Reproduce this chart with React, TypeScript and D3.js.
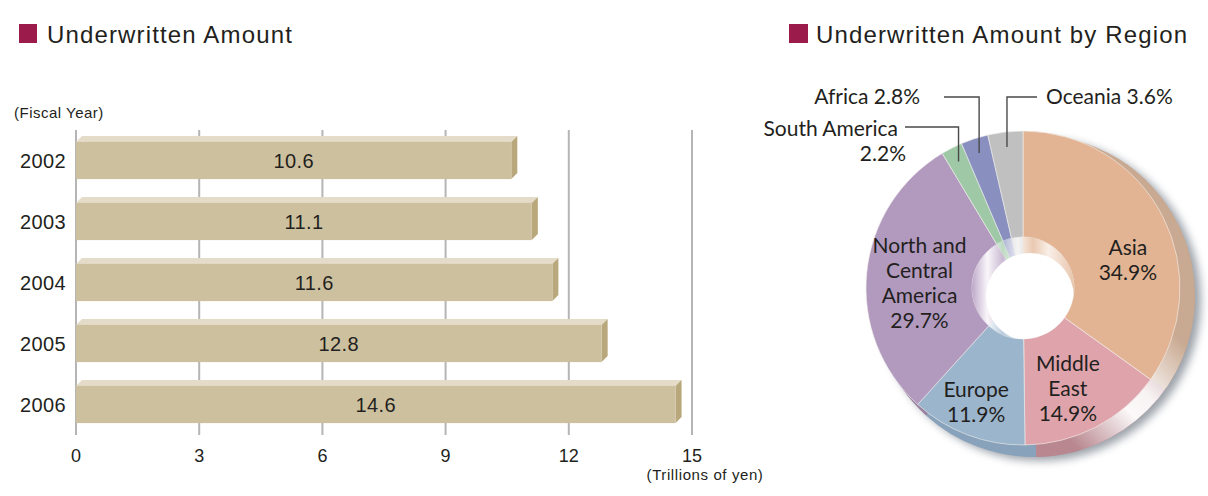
import React from "react";
import * as d3 from "d3";

// Underwritten amount by fiscal year (trillions of yen)
const years = ["2002", "2003", "2004", "2005", "2006"];
const amounts = [10.6, 11.1, 11.6, 12.8, 14.6];
const xTickValues = [0, 3, 6, 9, 12, 15];

// Share of underwritten amount by region (%), clockwise from 12 o'clock
const regionNames = ["Asia", "Middle East", "Europe", "North and Central America", "South America", "Africa", "Oceania"];
const regionShares = [34.9, 14.9, 11.9, 29.7, 2.2, 2.8, 3.6];
const regionFaceColors = ["#e2b493", "#dfa4ab", "#9bb5cd", "#b29abf", "#9ec8a6", "#8990bf", "#c0c0c0"];
const regionSideColors = ["#bf9a7e", "#b8878f", "#87a2ba", "#97809f", "#86ab8e", "#7078a3", "#a3a3a3"];

// Region names as they are broken over lines inside the ring
const insideNameLines: Record<string, string[]> = {
  "Asia": ["Asia"],
  "Middle East": ["Middle", "East"],
  "Europe": ["Europe"],
  "North and Central America": ["North and", "Central", "America"],
};
// nudges from the slice centroid for the inside labels
const insideNudge: Record<string, [number, number]> = {
  "Asia": [7, 22],
  "Middle East": [-6, 3],
  "Europe": [-8, 11],
  "North and Central America": [6, 6],
};

const TEXT = "#231f20";
const SANS = "'Liberation Sans', Arial, Helvetica, sans-serif";
const ROUND = "Lato, 'Noto Sans', sans-serif";

export default function App() {
  const W = 1208;
  const H = 496;

  // ---------- bar chart ----------
  const x = d3.scaleLinear().domain([0, 15]).range([76, 692]);
  const y = d3
    .scaleBand<string>()
    .domain(years)
    .range([130, 435])
    .paddingInner(0.39)
    .paddingOuter(0.195);
  const bw = y.bandwidth();
  const dx = 6;
  const dy = 6;

  // ---------- donut ----------
  const cx = 1023;
  const cy = 288;
  const outerR = 157;
  const innerR = 51;
  const backCx = cx + 11;
  const backCy = cy + 8;
  const backR = 161;
  const holeCx = cx + 7;
  const holeCy = cy + 9;
  const holeR = 44;

  const pie = d3.pie<number>().sort(null).value((d) => d);
  const slices = pie(regionShares);
  const faceArc = d3.arc<d3.PieArcDatum<number>>().innerRadius(innerR).outerRadius(outerR);
  const sideArc = d3.arc<d3.PieArcDatum<number>>().innerRadius(0).outerRadius(backR);
  const wallArc = d3.arc<d3.PieArcDatum<number>>().innerRadius(0).outerRadius(innerR);
  const labelArc = d3.arc<d3.PieArcDatum<number>>().innerRadius(110).outerRadius(110);
  const leaderArc = d3.arc<d3.PieArcDatum<number>>().innerRadius(142).outerRadius(142);

  const pct = (v: number) => `${v.toFixed(1)}%`;

  // outside labels with leader lines
  const outside = [
    { name: "South America", lines: [{ t: "South America", x: 898, y: 129 }, { t: pct(regionShares[4]), x: 906, y: 154 }], anchor: "end", lineY: 127, lineX: 905 },
    { name: "Africa", lines: [{ t: `Africa ${pct(regionShares[5])}`, x: 920, y: 97 }], anchor: "end", lineY: 97, lineX: 944 },
    { name: "Oceania", lines: [{ t: `Oceania ${pct(regionShares[6])}`, x: 1046, y: 97 }], anchor: "start", lineY: 97, lineX: 1037 },
  ];

  // highlight point on the extruded rim (about half past four)
  const hiAng = (135 * Math.PI) / 180;
  const px = cx + 165 * Math.sin(hiAng);
  const py = cy - 165 * Math.cos(hiAng);
  const tanX = Math.SQRT1_2;
  const tanY = -Math.SQRT1_2;

  return (
    <svg
      width={W}
      height={H}
      viewBox={`0 0 ${W} ${H}`}
      style={{ position: "absolute", left: 0, top: 0, background: "#fff" }}
    >
      <defs>
        <filter id="ringShadow" x="-20%" y="-20%" width="140%" height="140%">
          <feGaussianBlur stdDeviation="4" />
        </filter>
        <linearGradient
          id="rimHi"
          gradientUnits="userSpaceOnUse"
          x1={px - 75 * tanX}
          y1={py - 75 * tanY}
          x2={px + 75 * tanX}
          y2={py + 75 * tanY}
        >
          <stop offset="0" stopColor="#fff" stopOpacity="0" />
          <stop offset="0.42" stopColor="#fff" stopOpacity="0.95" />
          <stop offset="0.58" stopColor="#fff" stopOpacity="0.9" />
          <stop offset="1" stopColor="#fff" stopOpacity="0.15" />
        </linearGradient>
        <linearGradient id="wallHi" gradientUnits="userSpaceOnUse" x1={cx - innerR} y1={cy} x2={cx + innerR} y2={cy}>
          <stop offset="0" stopColor="#fff" stopOpacity="0" />
          <stop offset="0.15" stopColor="#fff" stopOpacity="0.9" />
          <stop offset="0.3" stopColor="#fff" stopOpacity="0.2" />
          <stop offset="0.45" stopColor="#fff" stopOpacity="0.8" />
          <stop offset="0.6" stopColor="#fff" stopOpacity="0.15" />
          <stop offset="0.75" stopColor="#fff" stopOpacity="0.75" />
          <stop offset="1" stopColor="#fff" stopOpacity="0.1" />
        </linearGradient>
        <clipPath id="wallClip">
          <circle cx={cx} cy={cy} r={innerR} />
        </clipPath>
      </defs>

      {/* ---------- left: bar chart ---------- */}
      <rect x={19} y={24} width={18} height={19} fill="#9b1b4b" />
      <text x={47} y={43} fontFamily={SANS} fontSize={24} letterSpacing={1.15} fill={TEXT}>
        Underwritten Amount
      </text>
      <text x={14} y={118} fontFamily={SANS} fontSize={15} letterSpacing={0.5} fill={TEXT}>
        (Fiscal Year)
      </text>

      {xTickValues.map((t) => (
        <line key={`g${t}`} x1={x(t)} x2={x(t)} y1={130} y2={435} stroke="#b5b5b5" strokeWidth={2} />
      ))}

      {years.map((yr, i) => {
        const v = amounts[i];
        const x0 = x(0);
        const x1 = x(v);
        const top = y(yr) as number;
        const bot = top + bw;
        return (
          <g key={yr}>
            <polygon
              points={`${x0},${top} ${x0 + dx},${top - dy} ${x1 + dx},${top - dy} ${x1},${top}`}
              fill="#e4dcc9"
            />
            <polygon
              points={`${x1},${top} ${x1 + dx},${top - dy} ${x1 + dx},${bot - dy} ${x1},${bot}`}
              fill="#b8a87b"
            />
            <rect x={x0} y={top} width={x1 - x0} height={bw} fill="#cdc09e" />
            <text
              x={(x0 + x1) / 2}
              y={top + bw / 2}
              dy="0.36em"
              textAnchor="middle"
              fontFamily={SANS}
              fontSize={20}
              letterSpacing={0.4}
              fill={TEXT}
            >
              {v.toFixed(1)}
            </text>
            <text
              x={66}
              y={top + bw / 2}
              dy="0.36em"
              textAnchor="end"
              fontFamily={SANS}
              fontSize={20}
              letterSpacing={0.4}
              fill={TEXT}
            >
              {yr}
            </text>
          </g>
        );
      })}

      {xTickValues.map((t) => (
        <text key={`t${t}`} x={x(t)} y={462} textAnchor="middle" fontFamily={SANS} fontSize={18} fill={TEXT}>
          {t}
        </text>
      ))}
      <text x={705} y={480} textAnchor="middle" fontFamily={SANS} fontSize={15} letterSpacing={0.6} fill={TEXT}>
        (Trillions of yen)
      </text>

      {/* ---------- right: donut ---------- */}
      <rect x={789} y={24} width={19} height={19} fill="#9b1b4b" />
      <text x={816} y={43} fontFamily={SANS} fontSize={24} letterSpacing={1.15} fill={TEXT}>
        Underwritten Amount by Region
      </text>

      {/* soft shadow behind the ring */}
      <circle cx={backCx + 6} cy={backCy + 4} r={backR} fill="#737b87" opacity={0.7} filter="url(#ringShadow)" />

      {/* extruded side of the ring */}
      <g transform={`translate(${backCx},${backCy})`}>
        {slices.map((s, i) => (
          <path key={`side${i}`} d={sideArc(s) as string} fill={regionSideColors[i]} />
        ))}
      </g>
      <circle cx={backCx} cy={backCy} r={backR} fill="url(#rimHi)" />

      {/* front face */}
      <g transform={`translate(${cx},${cy})`}>
        {slices.map((s, i) => (
          <path key={`face${i}`} d={faceArc(s) as string} fill={regionFaceColors[i]} stroke="#f4f1ee" strokeWidth={0.6} />
        ))}
      </g>

      {/* inner wall of the hole */}
      <g transform={`translate(${cx},${cy})`}>
        {slices.map((s, i) => (
          <path
            key={`wall${i}`}
            d={wallArc(s) as string}
            fill={d3.interpolateRgb(regionFaceColors[i], "#ffffff")(0.15)}
          />
        ))}
      </g>
      <circle cx={cx} cy={cy} r={innerR} fill="url(#wallHi)" />
      <circle cx={holeCx} cy={holeCy} r={holeR} fill="#fff" clipPath="url(#wallClip)" />

      {/* inside labels */}
      {slices.map((s, i) => {
        const name = regionNames[i];
        const nameLines = insideNameLines[name];
        if (!nameLines) return null;
        const [lx, ly] = labelArc.centroid(s);
        const [nx, ny] = insideNudge[name];
        const lines = [...nameLines, pct(regionShares[i])];
        const lh = 25;
        const startY = cy + ly + ny - ((lines.length - 1) * lh) / 2;
        return (
          <text
            key={`il${i}`}
            textAnchor="middle"
            fontFamily={ROUND}
            fontSize={21}
            fill={TEXT}
          >
            {lines.map((ln, k) => (
              <tspan key={k} x={cx + lx + nx} y={startY + k * lh} dy="0.35em">
                {ln}
              </tspan>
            ))}
          </text>
        );
      })}

      {/* outside labels with leader lines */}
      {outside.map((o) => {
        const i = regionNames.indexOf(o.name);
        const [ax, ay] = leaderArc.centroid(slices[i]);
        const sx = cx + ax;
        const sy = cy + ay;
        return (
          <g key={o.name}>
            <path
              d={`M${sx},${sy}V${o.lineY}H${o.lineX}`}
              fill="none"
              stroke="#4a4a4a"
              strokeWidth={1.4}
            />
            {o.lines.map((ln, k) => (
              <text
                key={k}
                x={ln.x}
                y={ln.y}
                dy="0.35em"
                textAnchor={o.anchor as "start" | "end"}
                fontFamily={ROUND}
                fontSize={21}
                fill={TEXT}
              >
                {ln.t}
              </text>
            ))}
          </g>
        );
      })}
    </svg>
  );
}
